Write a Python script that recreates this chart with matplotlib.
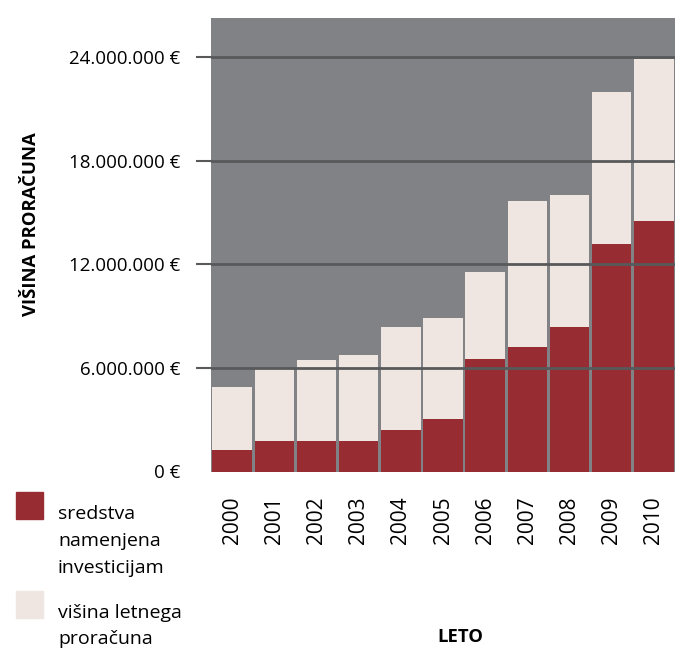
import matplotlib
matplotlib.use("Agg")
from matplotlib import pyplot as plt
from matplotlib.patches import Rectangle
import numpy as np

plt.rcParams['font.family'] = ['Open Sans', 'DejaVu Sans']

# values (millions of euro)
years = ['2000', '2001', '2002', '2003', '2004', '2005', '2006', '2007', '2008', '2009', '2010']
budget = [4.90, 5.94, 6.46, 6.75, 8.38, 8.90, 11.57, 15.68, 16.03, 22.0, 23.91]
invest = [1.25, 1.77, 1.77, 1.77, 2.41, 3.04, 6.52, 7.22, 8.38, 13.19, 14.52]
yticks = [0, 6, 12, 18, 24]
ytick_labels = ['0 €', '6.000.000 €', '12.000.000 €', '18.000.000 €', '24.000.000 €']

red = '#972c33'
beige = '#efe6e2'
bg = '#808285'
grid = '#58595b'

W, H = 675, 648
fig = plt.figure(figsize=(6.75, 6.48), dpi=100)
ax = fig.add_axes([211 / W, 1 - 471.5 / H, 464 / W, 454 / H])
ax.set_facecolor(bg)

x = np.arange(len(years))
ax.bar(x, budget, width=0.935, color=beige, linewidth=0, zorder=1)
ax.bar(x, invest, width=0.935, color=red, linewidth=0, zorder=2)

for v in yticks[1:]:
    ax.axhline(v, color=grid, linewidth=2, zorder=3)

ax.set_xlim(-0.5, len(years) - 0.5)
ax.set_ylim(0, 26.3)
for s in ax.spines.values():
    s.set_visible(False)

ax.set_yticks(yticks)
ax.set_yticklabels(ytick_labels, fontsize=13.5)
ax.tick_params(axis='y', length=11, width=1.5, color=grid, pad=11)
ax.yaxis.get_major_ticks()[0].tick1line.set_visible(False)

ax.set_xticks(x)
ax.set_xticklabels(years, rotation=90, fontsize=15, va='bottom')
ax.tick_params(axis='x', length=0, pad=52)

fig.text(31.5 / W, 1 - 224 / H, 'VIŠINA PRORAČUNA', rotation=90, fontsize=13.3,
         fontweight='bold', ha='center', va='center')
fig.text(460 / W, 1 - 642 / H, 'LETO', fontsize=13.3, fontweight='bold',
         ha='center', va='baseline')

# legend
fig.patches.append(Rectangle((16 / W, 1 - 519 / H), 27 / W, 27 / H,
                             transform=fig.transFigure, color=red))
fig.patches.append(Rectangle((16 / W, 1 - 618 / H), 27 / W, 27 / H,
                             transform=fig.transFigure, color=beige))
for txt, base in [('sredstva', 519), ('namenjena', 546), ('investicijam', 573),
                  ('višina letnega', 618), ('proračuna', 644)]:
    fig.text(58 / W, 1 - base / H, txt, fontsize=14, ha='left', va='baseline')

fig.savefig('out.png', dpi=100)
